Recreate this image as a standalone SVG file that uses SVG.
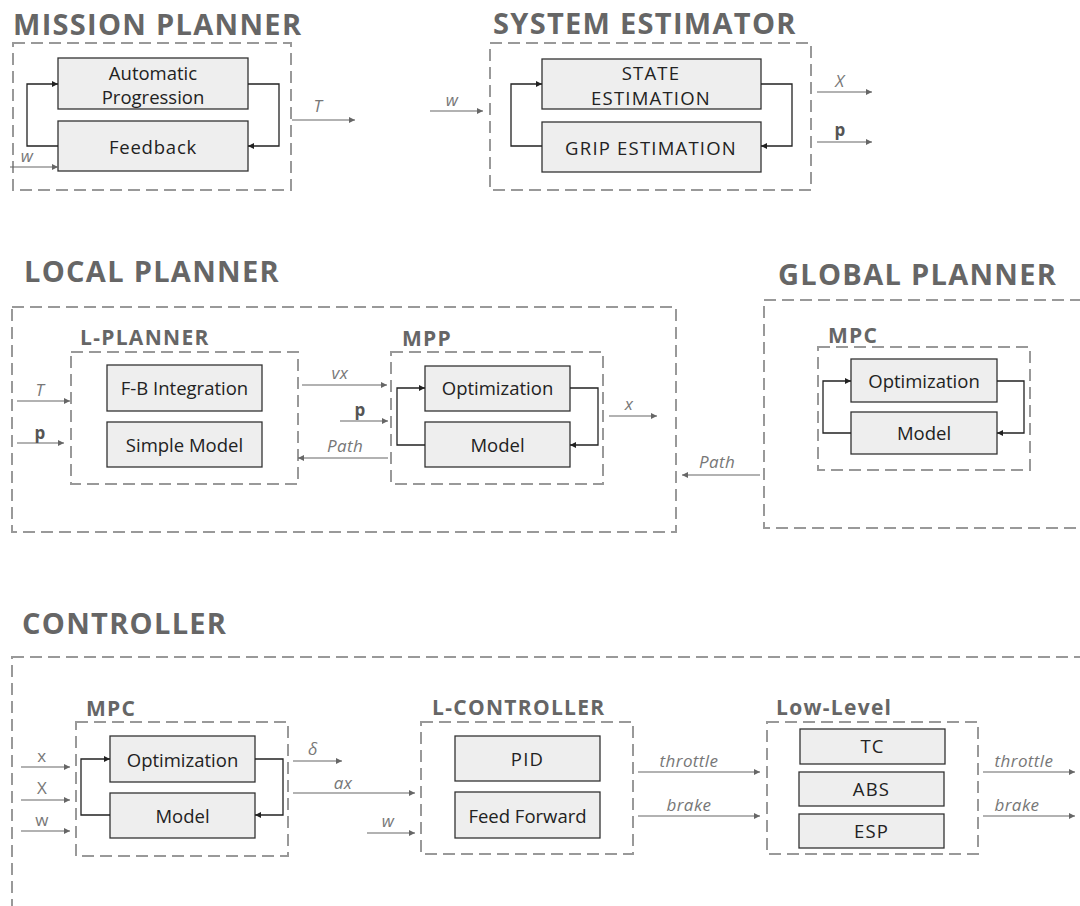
<svg xmlns="http://www.w3.org/2000/svg" width="1080" height="906" viewBox="0 0 1080 906">
<style>
.title{font-family:"Open Sans","Noto Sans",sans-serif;font-weight:700;font-size:29px;letter-spacing:1.3px;fill:#666}
.sub{font-family:"Open Sans","Noto Sans",sans-serif;font-weight:700;font-size:21px;letter-spacing:1.3px;fill:#666}
.frame{fill:none;stroke:#999;stroke-width:2;stroke-dasharray:12 6}
.blk{fill:#eee;stroke:#333;stroke-width:1.3}
.bt{font-family:"Open Sans","Noto Sans",sans-serif;font-size:18.5px;fill:#222;text-anchor:middle}
.up{letter-spacing:1.2px}
.lbl{font-family:"Open Sans","Noto Sans",sans-serif;font-size:17px;letter-spacing:0.4px;fill:#777;font-style:italic;text-anchor:middle}
.lblb{font-family:"Open Sans","Noto Sans",sans-serif;font-size:17px;fill:#555;font-weight:700;text-anchor:middle}
.ext{fill:none;stroke:#666;stroke-width:1.2;marker-end:url(#ag)}
.loop{fill:none;stroke:#222;stroke-width:1.3;marker-end:url(#ak)}
</style>
<defs>
<marker id="ag" viewBox="0 0 10 10" refX="10" refY="5" markerWidth="7" markerHeight="6" markerUnits="userSpaceOnUse" orient="auto"><path d="M0,0 L10,5 L0,10 z" fill="#666"/></marker>
<marker id="ak" viewBox="0 0 10 10" refX="10" refY="5" markerWidth="7" markerHeight="6" markerUnits="userSpaceOnUse" orient="auto"><path d="M0,0 L10,5 L0,10 z" fill="#222"/></marker>
</defs>
<rect width="1080" height="906" fill="#fff"/>

<g id="mission-planner">
<text class="title" x="13" y="35">MISSION PLANNER</text>
<rect class="frame" x="13" y="43" width="278" height="147"/>
<g id="automatic-progression"><rect class="blk" x="58" y="58" width="190" height="51"/><text class="bt" x="153" y="80">Automatic</text><text class="bt" x="153" y="104">Progression</text></g>
<g id="feedback"><rect class="blk" x="58" y="121" width="190" height="50"/><text class="bt" x="153" y="154" style="letter-spacing:0.8px">Feedback</text></g>
</g>

<g id="system-estimator">
<text class="title" x="493" y="34">SYSTEM ESTIMATOR</text>
<rect class="frame" x="490" y="43" width="321" height="147"/>
<g id="state-estimation"><rect class="blk" x="542" y="59" width="219" height="50"/><text class="bt up" x="651" y="80">STATE</text><text class="bt up" x="651" y="105">ESTIMATION</text></g>
<g id="grip-estimation"><rect class="blk" x="542" y="122" width="219" height="50"/><text class="bt up" x="651" y="155">GRIP ESTIMATION</text></g>
</g>

<g id="local-planner">
<text class="title" x="24" y="282">LOCAL PLANNER</text>
<rect class="frame" x="12" y="307" width="664" height="225"/>
<g id="l-planner">
<text class="sub" x="80" y="345">L-PLANNER</text>
<rect class="frame" x="71" y="352" width="227" height="132"/>
<g id="fb-integration"><rect class="blk" x="107" y="365" width="155" height="46"/><text class="bt" x="184.5" y="395">F-B Integration</text></g>
<g id="simple-model"><rect class="blk" x="107" y="422" width="155" height="45"/><text class="bt" x="184.5" y="452">Simple Model</text></g>
</g>
<g id="mpp">
<text class="sub" x="402" y="346">MPP</text>
<rect class="frame" x="391" y="352" width="212" height="132"/>
<g id="mpp-optimization"><rect class="blk" x="425" y="366" width="145" height="45"/><text class="bt" x="497.5" y="395">Optimization</text></g>
<g id="mpp-model"><rect class="blk" x="425" y="422" width="145" height="45"/><text class="bt" x="497.5" y="452">Model</text></g>
</g>
</g>

<g id="global-planner">
<text class="title" x="778" y="285">GLOBAL PLANNER</text>
<rect class="frame" x="764" y="300" width="330" height="228"/>
<g id="global-mpc">
<text class="sub" x="828" y="343">MPC</text>
<rect class="frame" x="818" y="347" width="212" height="123"/>
<g id="gp-optimization"><rect class="blk" x="851" y="359" width="146" height="43"/><text class="bt" x="924" y="388">Optimization</text></g>
<g id="gp-model"><rect class="blk" x="851" y="412" width="146" height="42"/><text class="bt" x="924" y="440">Model</text></g>
</g>
</g>

<g id="controller">
<text class="title" x="22" y="634">CONTROLLER</text>
<rect class="frame" x="12" y="657" width="1090" height="270"/>
<g id="ctrl-mpc">
<text class="sub" x="86" y="716">MPC</text>
<rect class="frame" x="76" y="722" width="212" height="134"/>
<g id="ctrl-optimization"><rect class="blk" x="110" y="736" width="145" height="46"/><text class="bt" x="182.5" y="767">Optimization</text></g>
<g id="ctrl-model"><rect class="blk" x="110" y="793" width="145" height="45"/><text class="bt" x="182.5" y="823">Model</text></g>
</g>
<g id="l-controller">
<text class="sub" x="432" y="715">L-CONTROLLER</text>
<rect class="frame" x="421" y="722" width="212" height="132"/>
<g id="pid"><rect class="blk" x="455" y="736" width="145" height="45"/><text class="bt up" x="527.5" y="766">PID</text></g>
<g id="feed-forward"><rect class="blk" x="455" y="792" width="145" height="46"/><text class="bt" x="527.5" y="823">Feed Forward</text></g>
</g>
<g id="low-level">
<text class="sub" x="776" y="715">Low-Level</text>
<rect class="frame" x="767" y="722" width="211" height="132"/>
<g id="tc"><rect class="blk" x="800" y="729" width="145" height="35"/><text class="bt up" x="872.5" y="753">TC</text></g>
<g id="abs"><rect class="blk" x="799" y="772" width="145" height="34"/><text class="bt up" x="871.5" y="796">ABS</text></g>
<g id="esp"><rect class="blk" x="799" y="814" width="145" height="34"/><text class="bt up" x="871.5" y="838">ESP</text></g>
</g>
</g>

<g id="connectors">
<path class="loop" d="M58,146 H27 V84 H58"/>
<path class="loop" d="M248,84 H279 V146 H248"/>
<path class="ext" d="M10,167 H58"/>
<text class="lbl" x="27" y="162">w</text>
<path class="ext" d="M292,120 H355"/>
<text class="lbl" x="318" y="112">T</text>
<path class="loop" d="M542,146 H511 V84 H542"/>
<path class="loop" d="M761,84 H792 V146 H761"/>
<path class="ext" d="M430,111 H483"/>
<text class="lbl" x="452" y="106">w</text>
<path class="ext" d="M817,92 H872"/>
<text class="lbl" x="840" y="87">X</text>
<path class="ext" d="M817,142 H872"/>
<text class="lblb" x="840" y="136">p</text>
<path class="ext" d="M17,401 H70"/>
<text class="lbl" x="40" y="396">T</text>
<path class="ext" d="M17,443 H64"/>
<text class="lblb" x="40" y="439">p</text>
<path class="ext" d="M302,385 H387"/>
<text class="lbl" x="340" y="379">vx</text>
<path class="ext" d="M340,421 H388"/>
<text class="lblb" x="360" y="416">p</text>
<path class="ext" d="M388,458 H298"/>
<text class="lbl" x="345" y="452">Path</text>
<path class="loop" d="M425,445 H397 V388 H425"/>
<path class="loop" d="M570,388 H598 V445 H570"/>
<path class="ext" d="M609,416 H657"/>
<text class="lbl" x="629" y="410">x</text>
<path class="ext" d="M760,475 H682"/>
<text class="lbl" x="717" y="468">Path</text>
<path class="loop" d="M851,433 H823 V381 H851"/>
<path class="loop" d="M997,381 H1024 V433 H997"/>
<path class="ext" d="M21,767 H70"/>
<text class="lbl" x="42" y="762" style="font-style:normal">x</text>
<path class="ext" d="M21,800 H70"/>
<text class="lbl" x="42" y="794" style="font-style:normal">X</text>
<path class="ext" d="M21,831 H70"/>
<text class="lbl" x="42" y="826" style="font-style:normal">w</text>
<path class="loop" d="M110,815 H81 V759 H110"/>
<path class="loop" d="M255,759 H283 V815 H255"/>
<path class="ext" d="M293,761 H342"/>
<text class="lbl" x="313" y="755">δ</text>
<path class="ext" d="M293,793 H415"/>
<text class="lbl" x="343" y="789">ax</text>
<path class="ext" d="M367,833 H415"/>
<text class="lbl" x="388" y="827">w</text>
<path class="ext" d="M638,772 H760"/>
<text class="lbl" x="689" y="767">throttle</text>
<path class="ext" d="M638,816 H760"/>
<text class="lbl" x="689" y="811">brake</text>
<path class="ext" d="M983,772 H1075"/>
<text class="lbl" x="1024" y="767">throttle</text>
<path class="ext" d="M983,816 H1075"/>
<text class="lbl" x="1017" y="811">brake</text>
</g>
</svg>
